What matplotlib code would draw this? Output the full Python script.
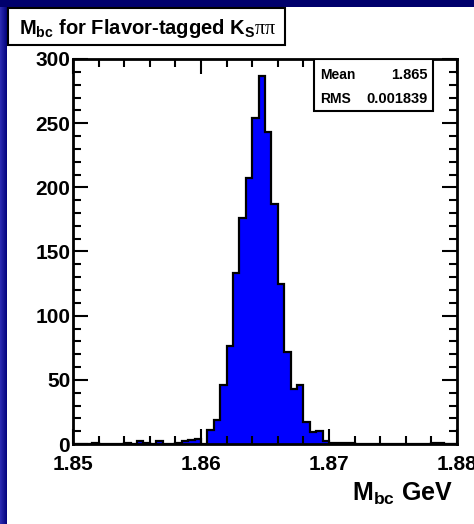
import numpy as np
import matplotlib.pyplot as plt
from matplotlib.patches import Rectangle
from matplotlib.colors import LinearSegmentedColormap

plt.rcParams['font.family'] = ['Liberation Sans', 'DejaVu Sans']
plt.rcParams['mathtext.fontset'] = 'custom'
plt.rcParams['mathtext.bf'] = 'Liberation Sans:bold'
plt.rcParams['mathtext.rm'] = 'Liberation Serif'

# histogram: 60 bins between 1.85 and 1.88 GeV
x_min, x_max, n_bins = 1.85, 1.88, 60
counts = [0, 0, 0, 1, 0, 0, 0, 0, 1, 0,
          2, 1, 0, 2, 0, 0, 1, 2, 3, 4,
          0, 11, 19, 46, 76, 133, 176, 207, 254, 287,
          243, 187, 125, 72, 43, 46, 17, 9, 10, 2,
          1, 1, 1, 1, 0, 0, 0, 0, 0, 0,
          0, 0, 0, 0, 0, 0, 1, 1, 0, 0]
x_ticks = [1.85, 1.86, 1.87, 1.88]
x_tick_labels = ['1.85', '1.86', '1.87', '1.88']
y_ticks = [0, 50, 100, 150, 200, 250, 300]
stat_names = ['Mean', 'RMS']
stat_values = ['1.865', '0.001839']

W, H = 474, 524
fig = plt.figure(figsize=(W / 100, H / 100), dpi=100)

# slide background: navy frame with lighter left edge, white panel
bg = fig.add_axes([0, 0, 1, 1], zorder=-10)
grad = np.linspace(0, 1, 8)
bg.imshow(np.vstack([grad, grad]), extent=[0, 8, 0, H], aspect='auto',
          cmap=LinearSegmentedColormap.from_list('edge', ['#2a2ab0', '#000078']))
bg.add_patch(Rectangle((0, H - 7), W, 7, color='#00006c', lw=0))
bg.add_patch(Rectangle((7, 0), W - 7, H - 7, color='white', lw=0))
bg.set_xlim(0, W)
bg.set_ylim(0, H)
bg.axis('off')

ax = fig.add_axes([73 / W, 1 - 444 / H, (457 - 73) / W, (444 - 59) / H])
edges = np.linspace(x_min, x_max, n_bins + 1)
ax.stairs(counts, edges, fill=True, color='#0000ff', lw=0)
ax.stairs(counts, edges, color='black', lw=1.6)

ax.set_xlim(x_min, x_max)
ax.set_ylim(0, 300)
ax.set_xticks(x_ticks)
ax.set_xticklabels(x_tick_labels)
ax.set_xticks(np.arange(1.85, 1.8801, 0.002), minor=True)
ax.set_yticks(y_ticks)
ax.set_yticks(np.arange(0, 301, 10), minor=True)
ax.tick_params(which='both', direction='in', top=True, right=True, width=1.5,
               labelsize=15)
ax.tick_params(which='major', length=11)
ax.tick_params(which='minor', length=5.5)
ax.tick_params(axis='x', pad=8)
ax.tick_params(axis='y', pad=2)
for lab in ax.get_xticklabels() + ax.get_yticklabels():
    lab.set_fontweight('bold')
for s in ax.spines.values():
    s.set_linewidth(2)

# stats box
ax.add_patch(Rectangle((314 / W, 1 - 111 / H), (433 - 314) / W, 52 / H,
                       transform=fig.transFigure, facecolor='white',
                       edgecolor='black', lw=1.5, zorder=5))
for i, (name, val) in enumerate(zip(stat_names, stat_values)):
    y = 1 - (75 + 24 * i) / H
    fig.text(320 / W, y, name, ha='left', va='center', fontsize=10,
             fontweight='bold', zorder=6)
    fig.text(428 / W, y, val, ha='right', va='center', fontsize=10.5,
             fontweight='bold', zorder=6)

# title box
bg.add_patch(Rectangle((8, H - 45), 277, 37, facecolor='white',
                       edgecolor='black', lw=1.5))
fig.text(19 / W, 1 - 28 / H,
         r'$\mathbf{M_{bc}}$ for Flavor-tagged $\mathbf{K_{S}}\mathrm{\pi\pi}$',
         ha='left', va='center', fontsize=14.5, fontweight='bold')

# axis label
fig.text(453 / W, 1 - 501 / H, r'$\mathbf{M_{bc}}$ GeV', ha='right',
         va='baseline', fontsize=18, fontweight='bold')

fig.savefig('out.png', dpi=100)
